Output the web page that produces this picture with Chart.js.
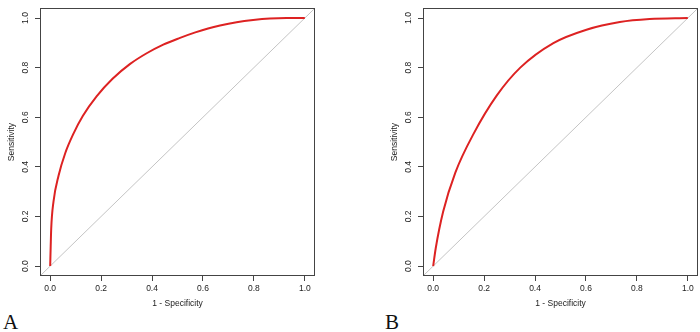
<!DOCTYPE html>
<html>
<head>
<meta charset="utf-8">
<script src="https://cdn.jsdelivr.net/npm/chart.js@4"></script>
<style>
  html, body { margin:0; padding:0; background:#fff; }
  #wrap { position:relative; width:700px; height:332px; overflow:hidden; background:#fff; }
  .panel { position:absolute; top:0; }
  .tag { position:absolute; font-family:"Liberation Serif","DejaVu Serif",serif; font-size:21px; line-height:21px; color:#111; }
</style>
</head>
<body>
<div id="wrap">
  <canvas id="cA" class="panel" width="350" height="310" style="left:0px"></canvas>
  <canvas id="cB" class="panel" width="350" height="310" style="left:350px"></canvas>
  <div class="tag" style="left:3px;top:312px">A</div>
  <div class="tag" style="left:385px;top:312px">B</div>
</div>
<script>
// ---- data ----
const fprA = [0, 0.002, 0.004, 0.013, 0.033, 0.059, 0.092, 0.128, 0.183, 0.245, 0.314, 0.379, 0.444, 0.51, 0.57, 0.62, 0.667, 0.732, 0.797, 0.863, 0.928, 1.0];
const tprA = [0, 0.08, 0.15, 0.26, 0.365, 0.455, 0.535, 0.605, 0.685, 0.755, 0.815, 0.858, 0.893, 0.920, 0.942, 0.958, 0.970, 0.983, 0.992, 0.998, 1.0, 1.0];
const fprB = [0, 0.010, 0.039, 0.087, 0.159, 0.250, 0.342, 0.472, 0.602, 0.733, 0.850, 1.0];
const tprB = [0, 0.072, 0.219, 0.377, 0.534, 0.688, 0.800, 0.899, 0.953, 0.984, 0.996, 1.0];
const refLine = [-0.04, 1.04];
const tickValues = [0, 0.2, 0.4, 0.6, 0.8, 1.0];
const xTitle = "1 - Specificity";
const yTitle = "Sensitivity";

const FONT = { family: "'Liberation Sans', Arial, sans-serif", size: 8.5 };
const TXT = '#222';
const AX = '#444';

const boxPlugin = {
  id: 'box',
  afterDraw(chart) {
    const { ctx, chartArea: a } = chart;
    ctx.save();
    ctx.strokeStyle = AX;
    ctx.lineWidth = 1;
    ctx.strokeRect(Math.round(a.left) + 0.5, Math.round(a.top) + 0.5,
                   Math.round(a.right - a.left) - 1, Math.round(a.bottom - a.top) - 1);
    ctx.restore();
  }
};

function makeChart(id, fpr, tpr, pad) {
  const roc = fpr.map((v, i) => ({ x: v, y: tpr[i] }));
  const diag = refLine.map(v => ({ x: v, y: v }));
  const setTicks = s => { s.ticks = tickValues.map(v => ({ value: v })); };
  return new Chart(document.getElementById(id), {
    type: 'scatter',
    data: {
      datasets: [
        { data: roc, showLine: true, borderColor: '#dd2222', borderWidth: 2, pointRadius: 0,
          cubicInterpolationMode: 'monotone', fill: false },
        { data: diag, showLine: true, borderColor: '#c4c4c4', borderWidth: 1, pointRadius: 0, fill: false }
      ]
    },
    options: {
      responsive: false,
      animation: false,
      devicePixelRatio: 1,
      layout: { padding: pad },
      plugins: { legend: { display: false }, tooltip: { enabled: false } },
      scales: {
        x: {
          type: 'linear', min: -0.04, max: 1.04,
          afterBuildTicks: setTicks,
          afterFit: s => { s.height = 34; },
          ticks: { font: FONT, color: TXT, padding: 3, maxRotation: 0, autoSkip: false,
                   callback: v => Number(v).toFixed(1) },
          grid: { drawOnChartArea: false, drawTicks: true, tickLength: 5, tickColor: AX, tickWidth: 1 },
          border: { display: false },
          title: { display: true, text: xTitle, font: FONT, color: TXT, padding: { top: 0, bottom: 1 } }
        },
        y: {
          type: 'linear', min: -0.04, max: 1.04,
          afterBuildTicks: setTicks,
          afterFit: s => { s.width = 40; },
          ticks: { font: FONT, color: TXT, padding: 3, minRotation: 90, maxRotation: 90, crossAlign: 'center',
                   autoSkip: false, callback: v => Number(v).toFixed(1) },
          grid: { drawOnChartArea: false, drawTicks: true, tickLength: 5, tickColor: AX, tickWidth: 1 },
          border: { display: false },
          title: { display: true, text: yTitle, font: FONT, color: TXT, padding: { top: 7, bottom: 0 } }
        }
      }
    },
    plugins: [boxPlugin]
  });
}

makeChart('cA', fprA, tprA, { left: 0, right: 35, top: 2, bottom: 0 });
makeChart('cB', fprB, tprB, { left: 33, right: 2, top: 2, bottom: 0 });
</script>
</body>
</html>
